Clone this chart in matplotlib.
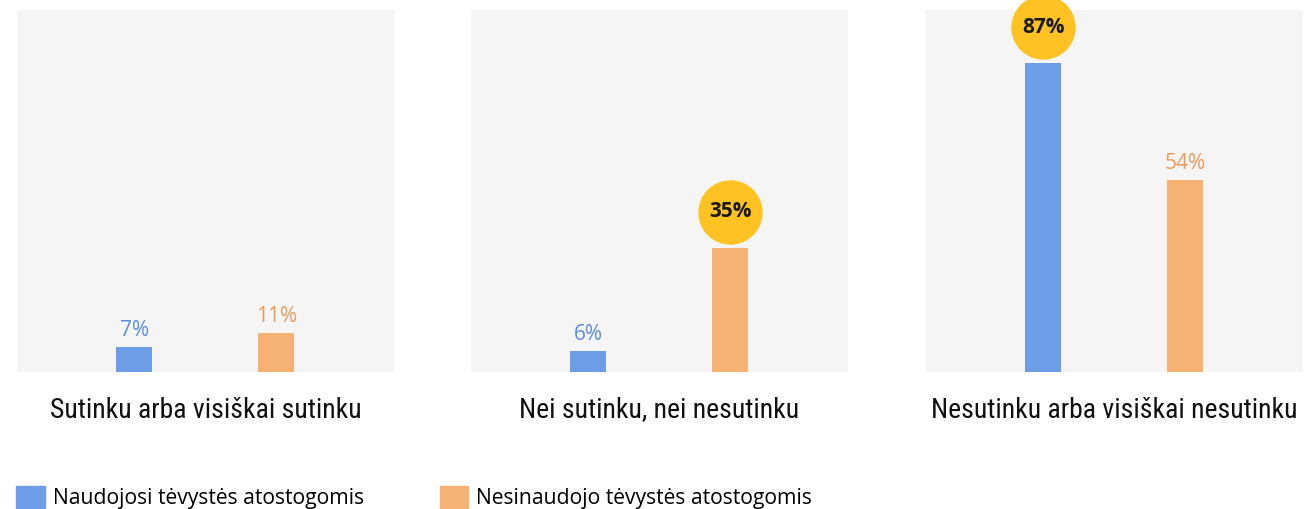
import matplotlib.pyplot as plt
import matplotlib.transforms as mtransforms
from matplotlib.patches import Patch

categories = [
    "Sutinku arba visiškai sutinku",
    "Nei sutinku, nei nesutinku",
    "Nesutinku arba visiškai nesutinku",
]
series_names = ["Naudojosi tėvystės atostogomis", "Nesinaudojo tėvystės atostogomis"]
used_leave = [7, 6, 87]
not_used_leave = [11, 35, 54]
# which bar of each panel gets the yellow circle (index into series, None = no highlight)
highlight = [None, 1, 0]

bar_colors = ["#6d9de6", "#f5b273"]
text_colors = ["#5c8ddb", "#eb9a5c"]
circle_color = "#fec223"
panel_bg = "#f5f5f5"

plt.rcParams["font.family"] = ["Open Sans", "DejaVu Sans"]

fig = plt.figure(figsize=(13.04, 5.09), dpi=100)
fig.set_facecolor("w")

lefts = [17, 471, 926]
for i, cat in enumerate(categories):
    ax = fig.add_axes([lefts[i] / 1304, 1 - 372 / 509, 377 / 1304, 362 / 509])
    ax.set_facecolor(panel_bg)
    for s in ax.spines.values():
        s.set_visible(False)
    ax.set_xticks([])
    ax.set_yticks([])
    ax.set_xlim(-0.825, 1.83)
    ax.set_ylim(0, 102)

    vals = [used_leave[i], not_used_leave[i]]
    for j, v in enumerate(vals):
        ax.bar(j, v, width=0.25, color=bar_colors[j], zorder=2)
        if highlight[i] == j:
            tr = mtransforms.offset_copy(ax.transData, fig=fig, y=36, units="dots")
            ax.scatter([j], [v], s=2150, color=circle_color, transform=tr,
                       zorder=3, clip_on=False, linewidths=0)
            ax.text(j, v, f"{v}%", transform=tr, ha="center", va="center",
                    fontsize=15, fontweight="bold", color="#1a1a1a", zorder=4)
        else:
            tr = mtransforms.offset_copy(ax.transData, fig=fig, y=6, units="dots")
            ax.text(j, v, f"{v}%", transform=tr, ha="center", va="bottom",
                    fontsize=15, color=text_colors[j])

    ax.text(0.5, -0.105, cat, transform=ax.transAxes, ha="center", va="center",
            fontsize=20, color="#111111",
            family=["Roboto Condensed", "Roboto", "DejaVu Sans"])

handles = [Patch(color=bar_colors[0]), Patch(color=bar_colors[1])]
fig.legend(handles, series_names, loc="lower left", bbox_to_anchor=(0.006, -0.017),
           ncol=2, frameon=False, fontsize=15.2, handlelength=1.35, handleheight=1.2,
           handletextpad=0.38, columnspacing=3.6, borderaxespad=0)

fig.savefig("out.png", dpi=100)
